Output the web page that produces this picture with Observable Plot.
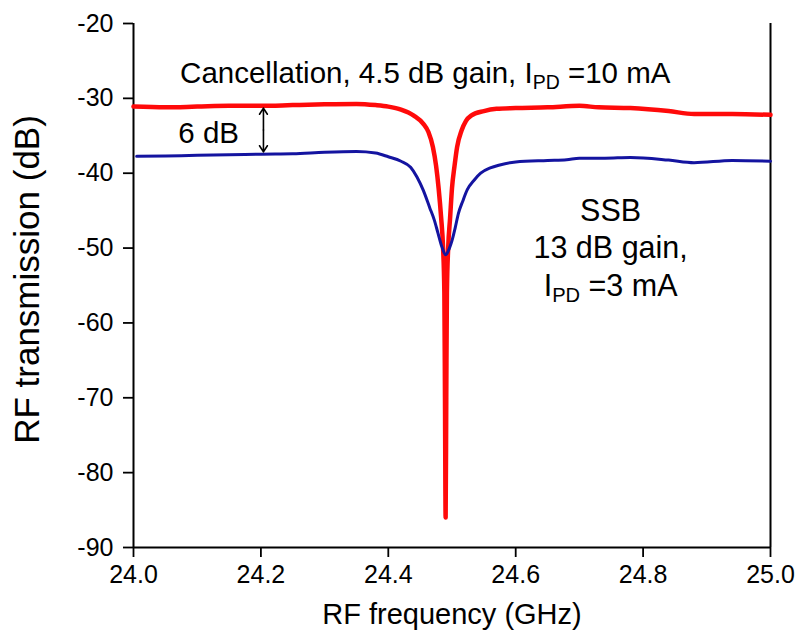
<!DOCTYPE html>
<html>
<head>
<meta charset="utf-8">
<script src="https://cdn.jsdelivr.net/npm/d3@7"></script>
<script src="https://cdn.jsdelivr.net/npm/@observablehq/plot@0.6"></script>
<style>
  html, body { margin: 0; padding: 0; background: #ffffff; }
  svg { display: block; }
</style>
</head>
<body>
<div id="chart"></div>
<script>
// ---- Data ----
const freqCancel = [24.00,24.05,24.10,24.15,24.20,24.25,24.30,24.35,24.38,24.40,24.42,24.44,24.455,24.463,24.470,24.475,24.479,24.483,24.486,24.488,24.489,24.490,24.491,24.492,24.494,24.497,24.500,24.504,24.508,24.515,24.522,24.530,24.55,24.57,24.60,24.65,24.70,24.73,24.78,24.84,24.88,24.94,25.00];
const dbCancel   = [-31.1,-31.2,-31.1,-31.0,-31.0,-30.9,-30.8,-30.75,-30.9,-31.1,-31.5,-32.3,-33.4,-34.5,-36.5,-39,-42,-46,-50,-56,-70,-86,-70,-56,-50,-46,-42,-39,-36.5,-34.3,-33,-32.3,-31.7,-31.4,-31.3,-31.2,-31.0,-31.2,-31.3,-31.7,-32.1,-32.1,-32.2];

const freqSSB = [24.005,24.05,24.10,24.15,24.20,24.25,24.30,24.35,24.38,24.40,24.42,24.435,24.445,24.455,24.465,24.472,24.478,24.484,24.490,24.496,24.500,24.505,24.510,24.517,24.524,24.535,24.545,24.56,24.575,24.60,24.65,24.68,24.70,24.74,24.78,24.84,24.88,24.94,25.00];
const dbSSB   = [-37.75,-37.7,-37.6,-37.55,-37.45,-37.4,-37.2,-37.1,-37.3,-37.8,-38.4,-39.2,-40.5,-42.3,-44.6,-46.2,-48,-49.8,-50.9,-50,-49,-47.3,-45.4,-43.7,-42.2,-40.9,-40.0,-39.3,-38.9,-38.5,-38.3,-38.2,-38.0,-38.0,-37.9,-38.25,-38.6,-38.3,-38.4];

const xTicks = [24.0, 24.2, 24.4, 24.6, 24.8, 25.0];
const yTicks = [-90, -80, -70, -60, -50, -40, -30, -20];

const xLabel = "RF frequency (GHz)";
const yLabel = "RF transmission (dB)";

const titleText = ["Cancellation, 4.5 dB gain, I_PD =10 mA"];
const titleFreq = [24.458];
const titleDb = [-26.64];

const gapText = ["6 dB"];
const gapTextFreq = [24.118];
const gapTextDb = [-34.65];

const ssbText = ["SSB\n13 dB gain,\nI_PD =3 mA"];
const ssbFreq = [24.749];
const ssbDb = [-49.8];

const gapFreq = [24.204];
const gapTop = [-31.3];
const gapBottom = [-37.15];

// ---- Build tables ----
const cancel = freqCancel.map((f, i) => ({f, db: dbCancel[i]}));
const ssb = freqSSB.map((f, i) => ({f, db: dbSSB[i]}));
const titleRows = titleText.map((t, i) => ({t, f: titleFreq[i], db: titleDb[i]}));
const gapTextRows = gapText.map((t, i) => ({t, f: gapTextFreq[i], db: gapTextDb[i]}));
const ssbRows = ssbText.map((t, i) => ({t, f: ssbFreq[i], db: ssbDb[i]}));
const gap = gapFreq.map((f, i) => ({f, top: gapTop[i], bottom: gapBottom[i], mid: (gapTop[i] + gapBottom[i]) / 2}));

const font = "'Liberation Sans', Arial, Helvetica, sans-serif";

const plot = Plot.plot({
  width: 799,
  height: 642,
  marginLeft: 133,
  marginRight: 29,
  marginTop: 23,
  marginBottom: 95,
  style: {fontFamily: font, fontSize: "25px", color: "#000", background: "#fff", overflow: "visible"},
  x: {domain: [24, 25]},
  y: {domain: [-90, -20]},
  marks: [
    Plot.axisX({ticks: xTicks, tickFormat: d3.format(".1f"), tickSize: 10, tickPadding: 8, strokeWidth: 1.8, label: null, fontSize: 25}),
    Plot.axisY({ticks: yTicks, tickFormat: d => String(d), tickSize: 10, tickPadding: 10, strokeWidth: 1.8, label: null, fontSize: 25}),
    Plot.ruleX([24, 25], {stroke: "#000", strokeWidth: 2}),
    Plot.ruleY([-90], {stroke: "#000", strokeWidth: 2}),
    Plot.line(cancel, {x: "f", y: "db", stroke: "#ff0a0a", strokeWidth: 4.5, curve: "monotone-x"}),
    Plot.line(ssb, {x: "f", y: "db", stroke: "#1414a0", strokeWidth: 3, curve: "monotone-x"}),
    Plot.arrow(gap, {x1: "f", x2: "f", y1: "mid", y2: "top", stroke: "#000", strokeWidth: 1.6, headLength: 10, headAngle: 65}),
    Plot.arrow(gap, {x1: "f", x2: "f", y1: "mid", y2: "bottom", stroke: "#000", strokeWidth: 1.6, headLength: 10, headAngle: 65}),
    Plot.text(titleRows, {x: "f", y: "db", text: "t", fontSize: 29.5, textAnchor: "middle", fill: "#000"}),
    Plot.text(gapTextRows, {x: "f", y: "db", text: "t", fontSize: 29.5, textAnchor: "middle", fill: "#000"}),
    Plot.text(ssbRows, {x: "f", y: "db", text: "t", fontSize: 30.5, lineHeight: 1.22, textAnchor: "middle", fill: "#000"}),
    Plot.text([xLabel], {text: d => d, frameAnchor: "bottom", dy: 76, fontSize: 29, textAnchor: "middle", fill: "#000"}),
    Plot.text([yLabel], {text: d => d, frameAnchor: "left", dx: -106, dy: -6, rotate: -90, fontSize: 35, textAnchor: "middle", fill: "#000"})
  ]
});

// Render "_PD" as a real subscript
const NS = "http://www.w3.org/2000/svg";
plot.querySelectorAll("text, tspan").forEach(el => {
  Array.from(el.childNodes).forEach(node => {
    if (node.nodeType === 3 && node.nodeValue.includes("_PD")) {
      const [before, after] = node.nodeValue.split("_PD");
      const frag = document.createDocumentFragment();
      frag.appendChild(document.createTextNode(before));
      const sub = document.createElementNS(NS, "tspan");
      sub.setAttribute("dy", "6");
      sub.style.fontSize = "0.66em";
      sub.textContent = "PD";
      const rest = document.createElementNS(NS, "tspan");
      rest.setAttribute("dy", "-6");
      rest.textContent = after;
      frag.appendChild(sub);
      frag.appendChild(rest);
      el.replaceChild(frag, node);
    }
  });
});

document.getElementById("chart").appendChild(plot);
</script>
</body>
</html>
